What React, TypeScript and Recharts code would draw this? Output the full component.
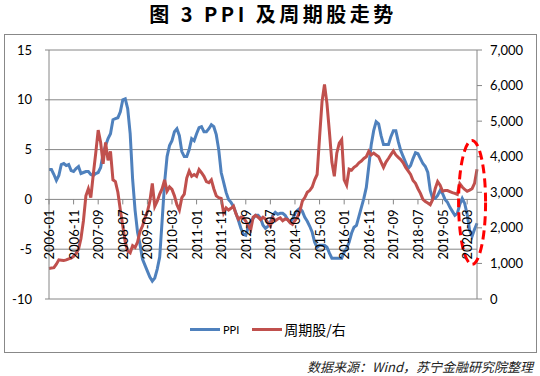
import React from 'react';
import { LineChart, Line, XAxis, YAxis, CartesianGrid, ReferenceDot } from 'recharts';

// Monthly categories 2006-01 .. 2020-07
const months: string[] = [];
for (let i = 0; i < 175; i++) {
  const y = 2006 + Math.floor(i / 12);
  const m = (i % 12) + 1;
  months.push(`${y}-${m < 10 ? '0' + m : m}`);
}

// PPI, % YoY (left axis)
const ppi = [
  3.0, 3.0, 2.5, 1.9, 2.4, 3.5, 3.6, 3.4, 3.5, 2.9, 2.8, 3.1,
  3.3, 2.6, 2.7, 2.8, 2.8, 2.5, 2.4, 2.6, 2.7, 3.2, 4.6, 5.4,
  6.1, 6.6, 8.0, 8.1, 8.2, 8.8, 10.0, 10.1, 9.1, 6.6, 2.0, -1.1,
  -3.3, -4.5, -6.0, -6.6, -7.2, -7.8, -8.2, -7.9, -7.0, -5.8, -2.1, 1.7,
  4.3, 5.4, 5.9, 6.8, 7.1, 6.4, 4.8, 4.3, 4.3, 5.0, 6.1, 5.9,
  6.6, 7.2, 7.3, 6.8, 6.8, 7.1, 7.5, 7.3, 6.5, 5.0, 2.7, 1.7,
  0.7, 0.0, -0.3, -0.7, -1.4, -2.1, -2.9, -3.5, -3.6, -2.8, -2.2, -1.9,
  -1.6, -1.6, -1.9, -2.6, -2.9, -2.7, -2.3, -1.6, -1.3, -1.5, -1.4, -1.4,
  -1.6, -2.0, -2.3, -2.0, -1.4, -1.1, -0.9, -1.2, -1.8, -2.2, -2.7, -3.3,
  -4.3, -4.8, -4.6, -4.6, -4.6, -4.8, -5.4, -5.9, -5.9, -5.9, -5.9, -5.9,
  -5.3, -4.9, -4.3, -3.4, -2.8, -2.6, -1.7, -0.8, 0.1, 1.2, 3.3, 5.5,
  6.9, 7.8, 7.6, 6.4, 5.5, 5.5, 5.5, 6.3, 6.9, 6.9, 5.8, 4.9,
  4.3, 3.7, 3.1, 3.4, 4.1, 4.7, 4.6, 4.1, 3.6, 3.3, 2.7, 0.9,
  0.1, 0.1, 0.4, 0.9, 0.6, 0.0, -0.3, -0.8, -1.2, -1.6, -1.4, -0.5,
  0.1, -0.4, -1.5, -3.1, -3.7, -3.0, -2.4,
];

// Cyclical stocks index (right axis)
const cyclical = [
  860, 870, 880, 980, 1100, 1090, 1080, 1100, 1130, 1150, 1200, 1280,
  1400, 1700, 2200, 2900, 3100, 2850, 3500, 4100, 4750, 4400, 3800, 4400,
  3900, 4150, 3350, 3300, 3000, 2500, 2050, 1600, 1350, 1300, 1500, 1450,
  1600, 1900, 2050, 2280, 2450, 2750, 3250, 2600, 2750, 2950, 3100, 3350,
  3030, 3150, 3080, 2900, 2650, 2500, 2850, 2950, 3400, 3600, 3450, 3500,
  3450, 3640, 3550, 3450, 3300, 3270, 3350, 3100, 2900, 2850, 2830, 2420,
  2560, 2500, 2550, 2610, 2400, 2240, 2300, 2280, 2190, 2050, 1950, 2300,
  2350, 2300, 2230, 2300, 2250, 2140, 2050, 2280, 2200, 2250, 2280, 2200,
  2250, 2230, 2150, 2100, 2200, 2300, 2470, 2750, 2850, 3000, 3050, 3150,
  3350, 3500, 4550, 5550, 6030, 5500, 4700, 3850, 3450, 4100, 4380, 4480,
  3350, 3200, 3650, 3620, 3700, 3750, 3830, 3880, 3950, 4000, 4150, 4050,
  4100, 4050, 4000, 3850, 3700, 3850, 3950, 4060, 4160, 4050, 3980, 3920,
  3830, 3700, 3600, 3500, 3330, 3250, 3100, 2970, 2800, 2740, 2700, 2650,
  2800, 3100, 3300, 3200, 3030, 3050, 3050, 3020, 2990, 2970, 2940, 3240,
  3150, 3080, 3030, 3060, 3100, 3250, 3650,
];

const leftTicks = [-10, -5, 0, 5, 10, 15];
const rightTicks = [0, 1000, 2000, 3000, 4000, 5000, 6000, 7000];
const LEFT_DOMAIN: [number, number] = [-10, 15];
const HIGHLIGHT_MONTH = '2020-05';
const HIGHLIGHT_VALUE = -0.3;

const data = months.map((m, i) => ({ month: m, ppi: ppi[i], cyc: cyclical[i] }));

const W = 540;
const H = 376;
const MARGIN = { top: 50, right: 0, bottom: 76, left: 0 };
const XAXIS_H = 1;
const PLOT_H = H - MARGIN.top - MARGIN.bottom - XAXIS_H;
const ZERO_UP = (PLOT_H * (0 - LEFT_DOMAIN[0])) / (LEFT_DOMAIN[1] - LEFT_DOMAIN[0]);

const NUM_FONT = 'Lato, "Noto Sans", sans-serif';
const CJK_FONT = '"Noto Sans CJK SC", "Noto Sans", sans-serif';
const AXIS_COLOR = '#868686';

const XTick = (props: any) => {
  const { x, y, payload } = props;
  const y0 = y - ZERO_UP;
  const ty = y0 + 10;
  return (
    <g>
      <line x1={x} y1={y0} x2={x} y2={y0 + 5} stroke={AXIS_COLOR} strokeWidth={1} />
      <text
        x={x}
        y={ty}
        transform={`rotate(-90 ${x} ${ty})`}
        textAnchor="end"
        dominantBaseline="central"
        fontSize={13}
        fontFamily={NUM_FONT}
        fill="#000"
      >
        {payload.value}
      </text>
    </g>
  );
};

const Ellipse = (props: any) => {
  const { cx, cy } = props;
  return (
    <ellipse cx={cx} cy={cy} rx={13.5} ry={62} fill="none" stroke="#FF0000" strokeWidth={3} strokeDasharray="9 5" />
  );
};

export default function App() {
  return (
    <div style={{ position: 'absolute', left: 0, top: 0, width: W, height: H, background: '#fff' }}>
      <div style={{ position: 'absolute', left: 4, top: 34, width: 531, height: 317, border: '1px solid #888' }} />
      <div style={{ position: 'absolute', left: 0, top: 0 }}>
        <LineChart width={W} height={H} data={data} margin={MARGIN}>
          <CartesianGrid yAxisId="left" vertical={false} stroke={AXIS_COLOR} strokeWidth={1} />
          <XAxis
            dataKey="month"
            scale="point"
            height={XAXIS_H}
            interval={9}
            axisLine={false}
            tickLine={false}
            tickSize={0}
            tickMargin={0}
            tick={<XTick />}
          />
          <YAxis
            yAxisId="left"
            domain={LEFT_DOMAIN}
            ticks={leftTicks}
            interval={0}
            width={49}
            axisLine={{ stroke: AXIS_COLOR }}
            tickLine={{ stroke: AXIS_COLOR }}
            tickSize={4}
            tickMargin={13}
            tick={{ fontSize: 13, fill: '#000', fontFamily: NUM_FONT }}
          />
          <YAxis
            yAxisId="right"
            orientation="right"
            domain={[0, 7000]}
            ticks={rightTicks}
            interval={0}
            width={63}
            axisLine={{ stroke: AXIS_COLOR }}
            tickLine={{ stroke: AXIS_COLOR }}
            tickSize={5}
            tickMargin={8}
            tick={{ fontSize: 13, fill: '#000', fontFamily: NUM_FONT }}
            tickFormatter={(v: number) => v.toLocaleString('en-US')}
          />
          <Line yAxisId="left" type="linear" dataKey="ppi" stroke="#4F81BD" strokeWidth={3} dot={false} activeDot={false} isAnimationActive={false} />
          <Line yAxisId="right" type="linear" dataKey="cyc" stroke="#C0504D" strokeWidth={3} dot={false} activeDot={false} isAnimationActive={false} />
          <ReferenceDot yAxisId="left" x={HIGHLIGHT_MONTH} y={HIGHLIGHT_VALUE} shape={<Ellipse />} ifOverflow="visible" />
        </LineChart>
      </div>
      <div
        style={{
          position: 'absolute', left: 133, top: 1, width: 280, textAlign: 'center',
          fontFamily: CJK_FONT, fontWeight: 700, fontSize: 20, letterSpacing: 3.5, lineHeight: '26px',
          color: '#000', whiteSpace: 'nowrap',
        }}
      >
        图 3 PPI 及周期股走势
      </div>
      <div style={{ position: 'absolute', left: 190, top: 320, height: 18, display: 'flex', alignItems: 'center' }}>
        <div style={{ width: 30, height: 3, background: '#4F81BD' }} />
        <span style={{ fontFamily: NUM_FONT, fontSize: 11, marginLeft: 3, color: '#000' }}>PPI</span>
        <div style={{ width: 30, height: 3, background: '#C0504D', marginLeft: 13 }} />
        <span style={{ fontFamily: CJK_FONT, fontSize: 14, marginLeft: 2, color: '#000' }}>周期股/右</span>
      </div>
      <div
        style={{
          position: 'absolute', right: 7, top: 359, fontFamily: CJK_FONT, fontStyle: 'italic', fontSize: 13,
          lineHeight: '16px', color: '#222', whiteSpace: 'nowrap',
        }}
      >
        数据来源：Wind，苏宁金融研究院整理
      </div>
    </div>
  );
}
